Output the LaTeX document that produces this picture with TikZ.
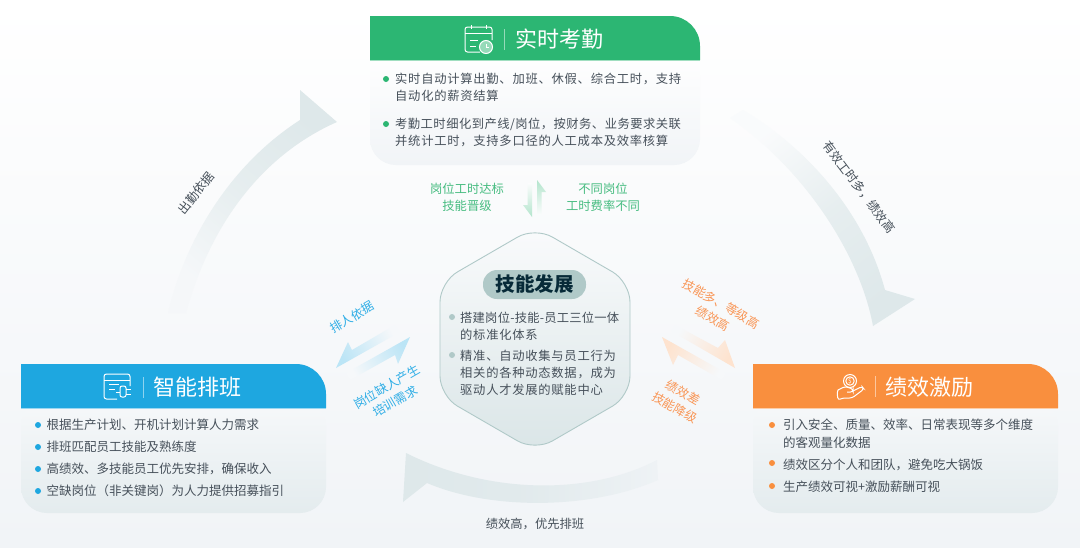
\documentclass[tikz,border=0pt]{standalone}
\usepackage{fontspec}
\setmainfont{Noto Sans CJK SC}
\newfontfamily\spacedfont[LetterSpace=6]{Noto Sans CJK SC}
\newfontfamily\midfont[LetterSpace=3.8]{Noto Sans CJK SC}
\newfontfamily\tightfont[LetterSpace=1.8]{Noto Sans CJK SC}
\usetikzlibrary{positioning}
\definecolor{cGreen}{RGB}{44,182,115}
\definecolor{cBlue}{RGB}{30,167,224}
\definecolor{cOrange}{RGB}{249,143,62}
\definecolor{cGreenTxt}{RGB}{70,188,128}
\definecolor{cBlueTxt}{RGB}{48,174,230}
\definecolor{cOrangeTxt}{RGB}{249,150,86}
\definecolor{cText}{RGB}{70,80,90}
\definecolor{cSkill}{RGB}{176,201,200}
\definecolor{cBand}{RGB}{222,232,234}
\definecolor{cBgLow}{RGB}{241,244,247}

\begin{document}
\begin{tikzpicture}[
  x=1pt, y=-1pt,
  grad/.style n args={3}{top color=#1, bottom color=#2, shading angle=#3},
  band/.style n args={3}{top color=cBand, bottom color=#1, middle color=#2, shading angle=#3},
  bodyfill/.style 2 args={top color=#1, bottom color=#2},
  item/.style={anchor=west, inner sep=0pt, align=left, text=cText,
    font=\fontsize{12.3}{17}\spacedfont},
  plain/.style={anchor=west, inner sep=0pt, align=left, text=cText,
    font=\fontsize{12.5}{#1}\selectfont},
  plain/.default=17,
  dotmark/.style={circle, fill=#1, inner sep=0pt, minimum size=6pt},
  title/.style={inner sep=0pt, text=white, font=\fontsize{22}{24}\selectfont},
  lbl/.style={inner sep=0pt, align=center, text=#1,
    font=\fontsize{12.3}{17}\selectfont},
  icon/.style={white, line width=1pt},
  divider/.style={white, opacity=0.5, line width=0.8pt},
]
\useasboundingbox (0,0) rectangle (1080,547);
\shade[top color=white, bottom color=cBgLow] (0,0) rectangle (1080,547);

% Large cycle arrows.
\shade[band={cBgLow!70!white}{cBand!75!white}{-40}]
  (168,313) .. controls (185,240) and (230,165) .. (300,120)
  -- (300,90) -- (337,122)
  .. controls (262,155) and (210,225) .. (186,313) -- cycle;
\shade[band={white!60!cBgLow}{cBand!75!white}{-142}]
  (743,110) .. controls (810,150) and (865,215) .. (885,290)
  -- (915,299) -- (873,326)
  .. controls (860,255) and (805,170) .. (730,118) -- cycle;
\shade[band={cBgLow!85!cBand}{cBand!80!cBgLow}{90}]
  (657,460) .. controls (590,495) and (490,495) .. (406,453)
  -- (403,502) -- (427,483)
  .. controls (490,510) and (590,510) .. (658,480) -- cycle;

% Small paired arrows.
\shade[grad={cGreen!36!white}{white!75!cBgLow}{0}]
  (537,180) -- (546,192) -- (541.5,192) -- (541.5,215) -- (537,215) -- cycle;
\shade[grad={cGreen!36!white}{white!75!cBgLow}{180}]
  (532,217) -- (523,205) -- (527.5,205) -- (527.5,183) -- (532,183) -- cycle;
\shade[grad={cBlue!30!white}{white!35!cBgLow}{120}]
  (336,368) -- (348,342) -- (352,350) -- (395,325) -- (400,332) -- cycle;
\shade[grad={cBlue!30!white}{white!35!cBgLow}{-60}]
  (410,337) -- (398,364) -- (395,355) -- (350,380) -- (346,373) -- cycle;
\shade[grad={cOrange!25!white}{white!35!cBgLow}{-120}]
  (735,368) -- (725,340) -- (718,348) -- (675,325) -- (671,331) -- cycle;
\shade[grad={cOrange!25!white}{white!35!cBgLow}{60}]
  (662,337) -- (673,365) -- (678,355) -- (722,380) -- (726,373) -- cycle;

% Attendance card.
\shade[bodyfill={white}{cBgLow}, rounded corners=26pt]
  (370,50) -- (370,165) -- (700,165) -- (700,50) -- cycle;
\fill[cGreen] (370,60) -- (370,16) [rounded corners=30pt] -- (700,16)
  [sharp corners] -- (700,60) -- cycle;
\draw[cGreen!45!white, line width=0.8pt] (370,60.5) -- (700,60.5);
\draw[icon, rounded corners=2.5pt] (480,52) -- (465,52) -- (465,27) -- (492,27) -- (492,40);
\draw[icon] (465,33.5) -- (492,33.5);
\draw[icon] (471,25) -- (471,29);
\draw[icon] (486,25) -- (486,29);
\draw[icon] (470,40) -- (478,40);
\draw[icon] (470,46) -- (476,46);
\draw[icon, fill=cGreen!50!white] (486,47) circle (6.5);
\draw[icon] (486,43.5) -- (486,47) -- (489,47);
\draw[divider] (504,29) -- (504,50);
\node[title] (attendtitle) at (559,39) {实时考勤};
\node[dotmark=cGreen] (attenddot1) at (386,79) {};
\node[item] (attend1) at (395,87.5) {实时自动计算出勤、加班、休假、综合工时，支持\\自动化的薪资结算};
\node[dotmark=cGreen] (attenddot2) at (386,124) {};
\node[item] (attend2) at (395,132.5) {{\midfont 考勤工时细化到产线/岗位，按财务、业务要求关联}\\并统计工时，支持多口径的人工成本及效率核算};

% Scheduling card.
\shade[bodyfill={white!40!cBgLow}{cBand!70!cBgLow}, rounded corners=26pt]
  (21,400) -- (21,513) -- (326,513) -- (326,400) -- cycle;
\fill[cBlue] (21,408) -- (21,364) [rounded corners=30pt] -- (326,364)
  [sharp corners] -- (326,408) -- cycle;
\draw[cBlue!45!white, line width=0.8pt] (21,408.5) -- (326,408.5);
\draw[icon, rounded corners=2.5pt] (117,399) -- (104,399) -- (104,374) -- (130,374) -- (130,386);
\draw[icon] (104,380) -- (130,380);
\draw[icon] (109,384) -- (119,384);
\draw[icon] (109,389) -- (115,389);
\draw[icon] (116,392) -- (120,392);
\draw[icon, rounded corners=2pt] (126,386) -- (120,386) -- (120,397) -- (126,397) -- cycle;
\draw[icon] (126,389) -- (131,389);
\draw[icon] (126,394) -- (131,394);
\draw[divider] (143,377) -- (143,398);
\node[title] (scheduletitle) at (197.5,387) {智能排班};
\node[dotmark=cBlue] (scheduledot1) at (38,425) {};
\node[plain] (schedule1) at (46.5,425) {根据生产计划、开机计划计算人力需求};
\node[dotmark=cBlue] (scheduledot2) at (38,447) {};
\node[plain] (schedule2) at (46.5,447) {排班匹配员工技能及熟练度};
\node[dotmark=cBlue] (scheduledot3) at (38,469) {};
\node[plain] (schedule3) at (46.5,469) {高绩效、多技能员工优先安排，确保收入};
\node[dotmark=cBlue] (scheduledot4) at (38,491) {};
\node[plain] (schedule4) at (46.5,491) {空缺岗位（非关键岗）为人力提供招募指引};

% Incentive card.
\shade[bodyfill={white!40!cBgLow}{cBand!70!cBgLow}, rounded corners=26pt]
  (753,400) -- (753,513) -- (1058,513) -- (1058,400) -- cycle;
\fill[cOrange] (753,408) -- (753,364) [rounded corners=30pt] -- (1058,364)
  [sharp corners] -- (1058,408) -- cycle;
\draw[cOrange!45!white, line width=0.8pt] (753,408.5) -- (1058,408.5);
\draw[icon] (850,381) circle (6.5);
\draw[icon] (850,381) circle (4.2);
\draw[icon, rounded corners=2.5pt] (838,390) -- (845,386.5) -- (853,389) -- (853,392) -- (847,392);
\draw[icon, rounded corners=2.5pt] (853,391) -- (862,386.5) -- (864,389) -- (852,398) -- (843,398) -- (838,400) -- (837,392) -- (838,390);
\node[inner sep=0pt, text=white, font=\fontsize{6.5}{7}\selectfont] (coinmark) at (850,381) {\$};
\draw[divider] (875,376) -- (875,397);
\node[title] (bonustitle) at (929,387) {绩效激励};
\node[dotmark=cOrange] (bonusdot1) at (772,425) {};
\node[plain=18] (bonus1) at (783,434) {引入安全、质量、效率、日常表现等多个维度\\的客观量化数据};
\node[dotmark=cOrange] (bonusdot2) at (772,463) {};
\node[plain] (bonus2) at (783,465) {绩效区分个人和团队，避免吃大锅饭};
\node[dotmark=cOrange] (bonusdot3) at (772,486) {};
\node[plain] (bonus3) at (783,487) {生产绩效可视+激励薪酬可视};

% Skills hexagon.
\draw[draw=cSkill, line width=0.9pt, top color=white!60!cBgLow, bottom color=cBand!92!cSkill, rounded corners=20pt]
  (535,227) -- (630,282) -- (630,396) -- (535,451) -- (440,396) -- (440,282) -- cycle;
\node[fill=cSkill, rounded corners=14pt, minimum width=103pt, minimum height=29pt, inner sep=0pt,
  text=black!75!cBlue, font=\fontsize{19.5}{22}\bfseries] (skilltitle) at (534.5,284.5) {技能发展};
\node[dotmark=cSkill] (skilldot1) at (452,317) {};
\node[item] (skill1) at (460,326.5) {{\tightfont 搭建岗位-技能-员工三位一体}\\的标准化体系};
\node[dotmark=cSkill] (skilldot2) at (452,355) {};
\node[item] (skill2) at (460,372.5) {精准、自动收集与员工行为\\相关的各种动态数据，成为\\驱动人才发展的赋能中心};

% Arrow labels.
\node[lbl=cGreenTxt] (greenleft) at (467,197.5) {岗位工时达标\\技能晋级};
\node[lbl=cGreenTxt] (greenright) at (603,197.5) {不同岗位\\工时费率不同};
\node[lbl=cBlueTxt, rotate=30] (blueup) at (352,317) {排人依据};
\node[lbl=cBlueTxt, rotate=30] (bluedown) at (391,394) {岗位缺人产生\\培训需求};
\node[lbl=cOrangeTxt, rotate=-30] (orangeup) at (717,311) {技能多、等级高\\绩效高};
\node[lbl=cOrangeTxt, rotate=-30] (orangedown) at (679,400) {绩效差\\技能降级};
\node[lbl=cText, rotate=52] (leftarc) at (196,193) {出勤依据};
\node[lbl=cText, rotate=-53] (rightarc) at (859,187) {有效工时多，绩效高};
\node[lbl=cText] (bottomarc) at (535,524) {绩效高，优先排班};

\end{tikzpicture}
\end{document}
